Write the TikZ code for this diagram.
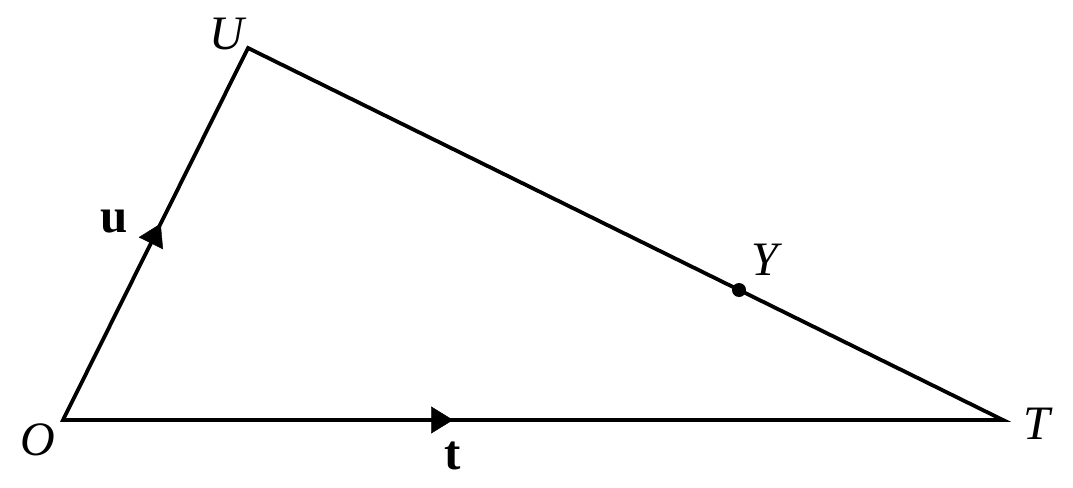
\documentclass[tikz,border=0pt]{standalone}
\usepackage{fontspec}
\setmainfont{Liberation Serif}
\usetikzlibrary{arrows.meta,decorations.markings}
\begin{document}
\begin{tikzpicture}[x=1pt,y=-1pt,
  edge/.style={line width=3.8pt,line join=miter},
  midarrow/.style={postaction={decorate},decoration={markings,
    mark=at position #1 with {\arrow{Triangle[length=22pt,width=27pt]}}}},
  lbl/.style={font=\fontsize{48}{54}\selectfont\itshape,inner sep=0pt},
  vec/.style={font=\fontsize{49}{54}\selectfont\bfseries,inner sep=0pt},
  dot/.style={circle,fill=black,inner sep=0pt,minimum size=14pt}]
\useasboundingbox (0,0) rectangle (1073,487);
\coordinate (O) at (63,420);
\coordinate (U) at (248,48);
\coordinate (T) at (1003,420);
\draw[edge] (T) -- (O) -- (U) -- cycle;
\path[midarrow=0.528] (O) -- (U);
\path[midarrow=0.415] (O) -- (T);
\node[dot] (Y) at (739,290) {};
\node[lbl] (lO) at (38,440) {O};
\node[lbl] (lU) at (227,34) {U};
\node[lbl] (lT) at (1037,424) {T};
\node[lbl] (lY) at (765,260) {Y};
\node[vec] (lu) at (114,222) {u};
\node[vec] (lt) at (453,456) {t};
\end{tikzpicture}
\end{document}
